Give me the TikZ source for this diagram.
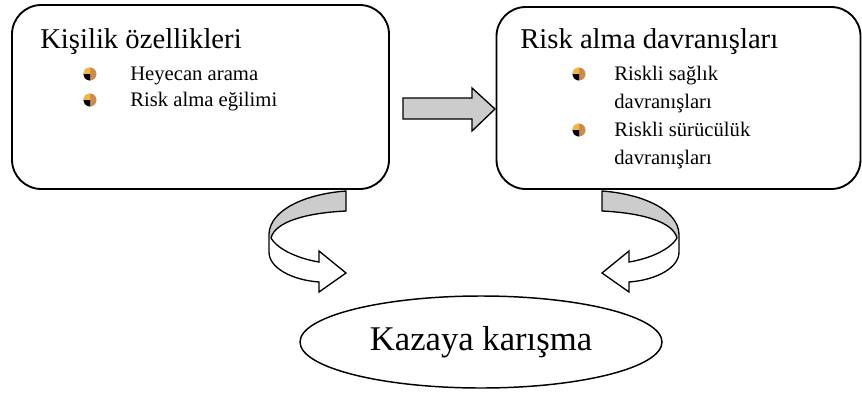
\documentclass[tikz,border=0pt]{standalone}
\usepackage{fontspec}
\setmainfont{Liberation Serif}
\usetikzlibrary{shapes.geometric}
\definecolor{bulorange}{HTML}{F5B63A}
\definecolor{bulbrown}{HTML}{C98B4F}
\definecolor{arrgray}{HTML}{CCCCCC}
\begin{document}
\begin{tikzpicture}[x=0.75pt,y=-0.75pt,
  box/.style={draw, line width=1.4pt, rounded corners=22pt, inner sep=0pt},
  head/.style={anchor=base west, inner sep=0pt, font=\fontsize{21.5}{25}\selectfont},
  item/.style={anchor=base west, inner sep=0pt, font=\fontsize{15.5}{18}\selectfont},
  bul/.pic={
    \fill[bulbrown] (0,0) circle (6.5);
    \fill[bulorange] (0,0) -- (-6.5,0) arc (180:270:6.5) -- cycle;
    \fill[black] (0,0) -- (-6.5,0) arc (180:90:6.5) -- cycle;
  },
  carrow/.pic={
    \fill[white] (0,0) .. controls (-41,3) and (-76,19) .. (-77,43) -- (-77,61)
      .. controls (-77,77) and (-54,89) .. (-27,91) -- (-27,101) -- (0,82)
      -- (-27,60) -- (-27,71) .. controls (-46,68) and (-68,59) .. (-75,47)
      .. controls (-71,31) and (-41,22) .. (0,20) -- cycle;
    \fill[arrgray] (0,0) .. controls (-41,3) and (-76,19) .. (-77,43) -- (-75,47)
      .. controls (-71,31) and (-41,22) .. (0,20) -- cycle;
    \draw[line width=1pt, line join=miter] (0,0) .. controls (-41,3) and (-76,19) .. (-77,43) -- (-77,61)
      .. controls (-77,77) and (-54,89) .. (-27,91) -- (-27,101) -- (0,82)
      -- (-27,60) -- (-27,71) .. controls (-46,68) and (-68,59) .. (-75,47)
      .. controls (-71,31) and (-41,22) .. (0,20) -- cycle;
  }]
\useasboundingbox (0,0) rectangle (862,396);

% boxes
\node[box, minimum width={377*0.75pt}, minimum height={184*0.75pt}] (pers) at (200.5,97) {};
\node[box, minimum width={364*0.75pt}, minimum height={182*0.75pt}] (risk) at (678.5,98) {};

% left box text
\node[head] (h1) at (40,48) {Kişilik özellikleri};
\pic at (90,74) {bul};
\node[item] (i1) at (130,80) {Heyecan arama};
\pic at (90,100) {bul};
\node[item] (i2) at (130,106) {Risk alma eğilimi};

% right box text
\node[head] (h2) at (520,48) {Risk alma davranışları};
\pic at (579,74) {bul};
\node[item] (r1) at (614,80) {Riskli sağlık};
\node[item] (r2) at (614,108) {davranışları};
\pic at (579,130) {bul};
\node[item] (r3) at (614,136) {Riskli sürücülük};
\node[item] (r4) at (614,164) {davranışları};

% block arrow between boxes
\filldraw[fill=arrgray, line width=1pt] (403,98) -- (472,98) -- (472,88) -- (495,109)
  -- (472,131) -- (472,119) -- (403,119) -- cycle;

% ellipse
\node[ellipse, draw, line width=1.1pt, minimum width={362*0.75pt}, minimum height={92*0.75pt},
  font=\fontsize{26}{30}\selectfont] (acc) at (481,342) {Kazaya karışma};

% curved arrows
\pic at (346,191) {carrow};
\pic[xscale=-1] at (602,191) {carrow};
\end{tikzpicture}
\end{document}
